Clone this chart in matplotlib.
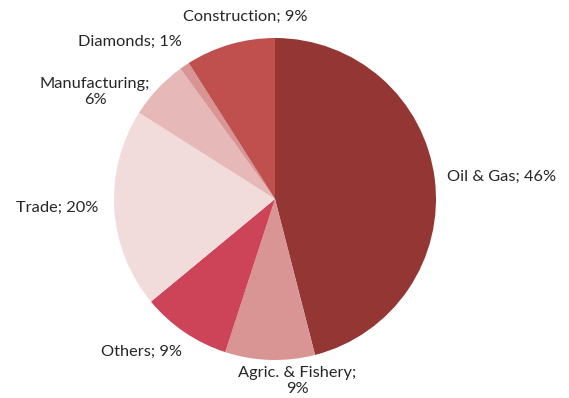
import matplotlib.pyplot as plt

sectors = ["Oil & Gas", "Agric. & Fishery", "Others", "Trade",
           "Manufacturing", "Diamonds", "Construction"]
shares = [46, 9, 9, 20, 6, 1, 9]
colors = ["#943634", "#D99594", "#CD4358", "#F2DCDB",
          "#E6B9B8", "#D99594", "#C0504D"]
# label separators: some labels wrap after the semicolon
seps = [" ", "\n", " ", " ", "\n", " ", " "]
# label centers in figure pixels (x, y from top)
label_pos = [(502, 177), (297, 381), (142, 352), (57, 208),
             (95, 92), (130, 42), (245, 17)]

W, H = 569, 398
fig = plt.figure(figsize=(W / 100, H / 100), dpi=100)
ax = fig.add_axes([0, 0, 1, 1])
ax.set_xlim(0, W)
ax.set_ylim(0, H)
ax.set_aspect("equal")
ax.axis("off")

ax.pie(shares, colors=colors, startangle=90, counterclock=False,
       center=(275, H - 199), radius=161,
       wedgeprops=dict(linewidth=0))

ax.set_xlim(0, W)
ax.set_ylim(0, H)

for name, v, sep, (x, y) in zip(sectors, shares, seps, label_pos):
    ax.text(x, H - y, f"{name};{sep}{v}%", ha="center", va="center",
            fontsize=11.8, family="Lato", color="#262626",
            linespacing=1.25)

fig.savefig("out.png", dpi=100, facecolor="white")
